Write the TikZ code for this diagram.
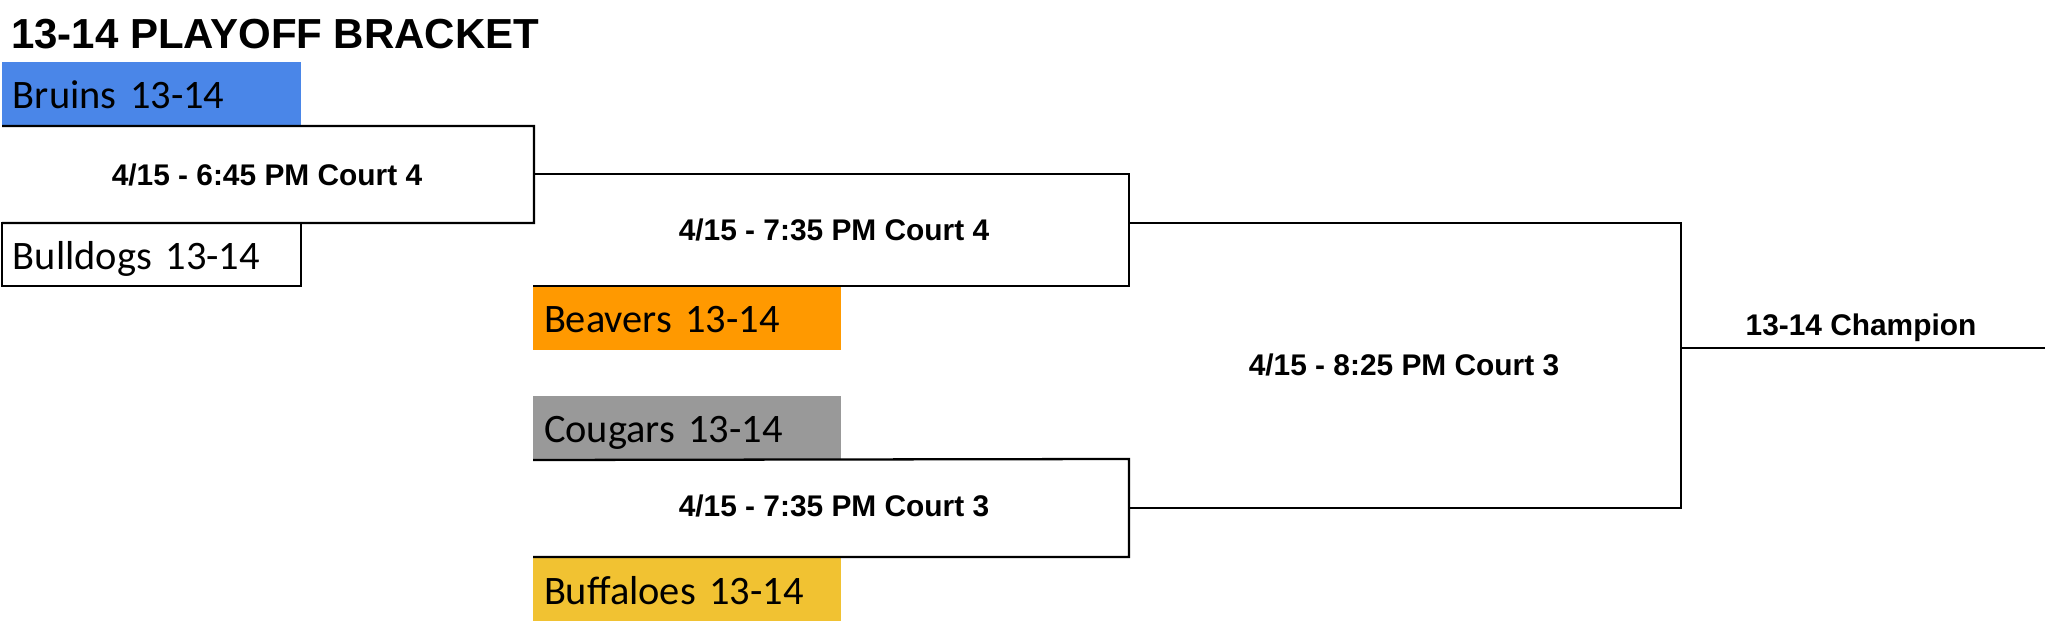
\documentclass[tikz,border=0pt]{standalone}
\usepackage{fontspec}
\setmainfont{Liberation Sans}
\newfontfamily\teamfont{Carlito}

\definecolor{bruinsblue}{HTML}{4A86E8}
\definecolor{beaversorange}{HTML}{FF9900}
\definecolor{cougarsgray}{HTML}{999999}
\definecolor{buffaloesyellow}{HTML}{F1C232}

\tikzset{
  team/.style={anchor=north west, inner xsep=0.11cm, inner ysep=0pt, outer sep=0pt,
    text height=0.47cm, text depth=0.17cm, align=left,
    font=\teamfont\fontsize{11.5}{13}\selectfont},
  game/.style={anchor=base, inner sep=0pt, font=\bfseries\fontsize{8.5}{10}\selectfont},
}

\begin{document}
\begin{tikzpicture}[x=0.1mm,y=-0.1mm,line width=0.65pt]
\useasboundingbox (0,0) rectangle (2048,621);

% title
\node [anchor=base west, inner sep=0pt, font=\bfseries\fontsize{11.95}{14}\selectfont] (title) at (10,49) {13-14 PLAYOFF BRACKET};

% teams
\node [team, fill=bruinsblue, text width=2.77cm] (bruins) at (2,62) {Bruins 13-14};
\node [team, draw, text width=2.77cm, text depth=0.16cm] (bulldogs) at (2,223) {Bulldogs 13-14};
\node [team, fill=beaversorange, text width=2.86cm] (beavers) at (533,286) {Beavers 13-14};
\node [team, fill=cougarsgray, text width=2.86cm] (cougars) at (533,396) {Cougars 13-14};
\node [team, fill=buffaloesyellow, text width=2.86cm] (buffaloes) at (533,557) {Buffaloes 13-14};

% first round
\draw (bruins.south west) -- (534,126) -- (534,223) -- (bulldogs.north west);
% semifinals
\draw (534,174) -- (1129,174) -- (1129,286) -- (beavers.north west);
\draw (cougars.south west) -- (1129,459) -- (1129,557) -- (buffaloes.north west);
% final
\draw (1129,223) -- (1681,223) -- (1681,508) -- (1129,508);
% champion
\draw (1681,348) -- (2045,348);

% game times
\node [game] (g1) at (267,186) {4/15 - 6:45 PM Court 4};
\node [game] (g2) at (834,241) {4/15 - 7:35 PM Court 4};
\node [game] (g3) at (834,517) {4/15 - 7:35 PM Court 3};
\node [game] (g4) at (1404,376) {4/15 - 8:25 PM Court 3};
\node [game] (champ) at (1861,336) {13-14 Champion};

\end{tikzpicture}
\end{document}
